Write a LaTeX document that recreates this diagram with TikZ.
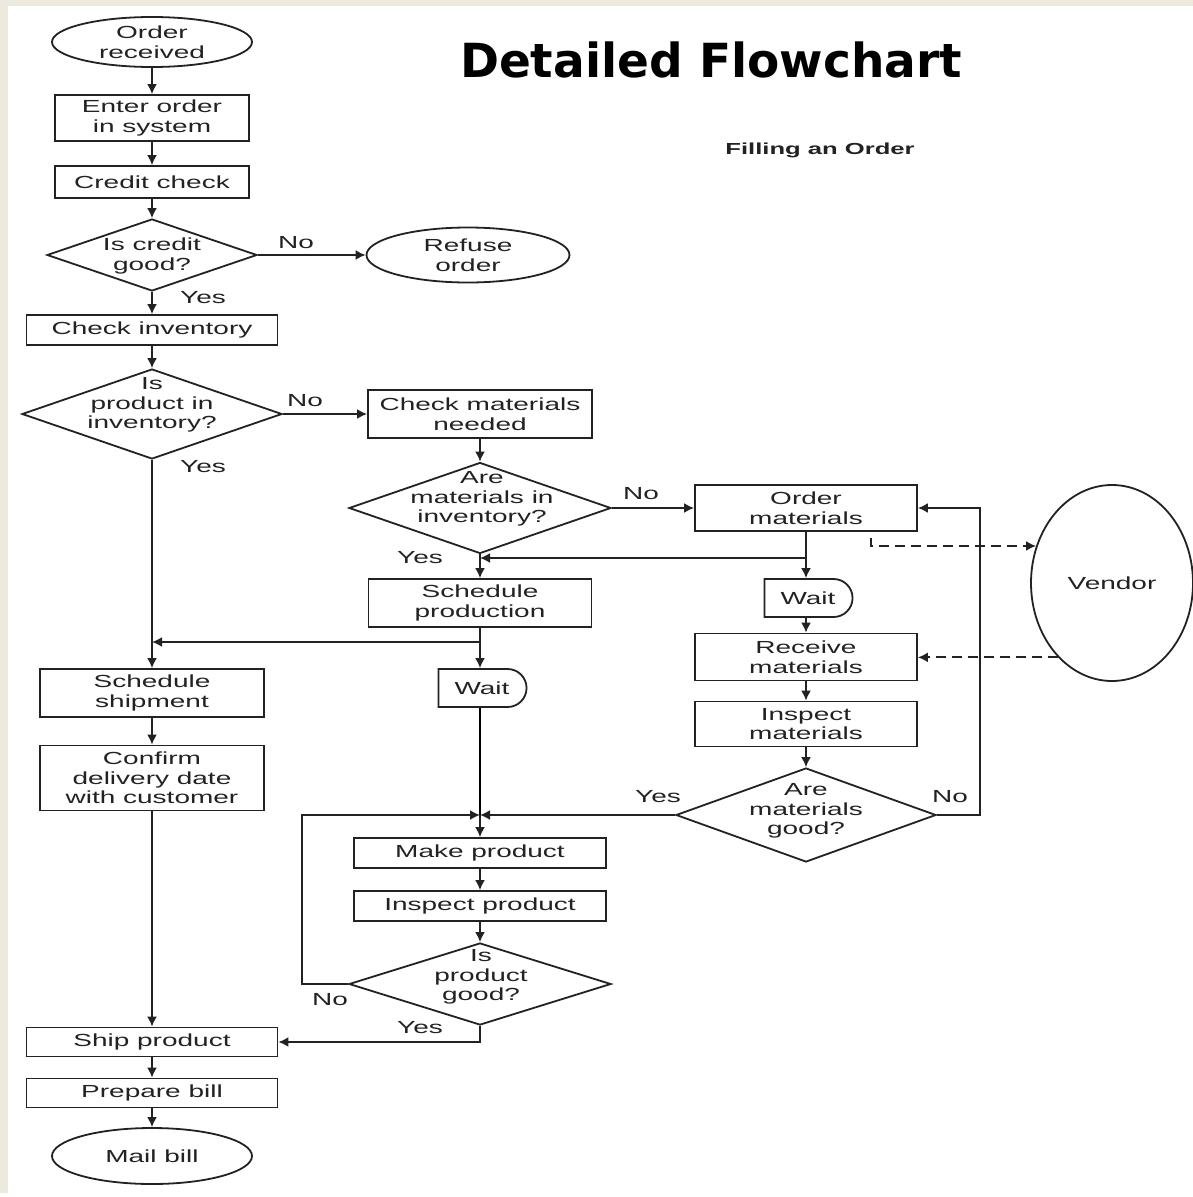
\documentclass[tikz,border=0pt]{standalone}
\usepackage{fontspec}
\setmainfont{Liberation Sans}
\newfontfamily\fc[FakeStretch=1.6]{Liberation Sans}
\newfontfamily\ttlfont{DejaVu Sans}
\usetikzlibrary{shapes.geometric,shapes.misc,arrows.meta}
\definecolor{beige}{HTML}{ECE9DD}
\definecolor{ink}{HTML}{222222}
\begin{document}
\begin{tikzpicture}[x=1pt,y=-1pt,
 line width=1.8pt,
 every node/.style={font=\fc\fontsize{17.5}{19.5}\selectfont, text=ink},
 proc/.style={draw=ink, rectangle, align=center, inner sep=0pt},
 term/.style={draw=ink, ellipse, align=center, inner sep=0pt},
 dia/.style={draw=ink, diamond, inner sep=0pt},
 txt/.style={align=center, inner sep=0pt},
 waitbox/.style={draw=ink, rounded rectangle, rounded rectangle left arc=none, inner sep=0pt, minimum width=88pt, minimum height=38pt},
 arr/.style={draw=ink, -{Latex[length=10pt,width=10pt]}},
 dsh/.style={draw=ink, dash pattern=on 10pt off 6pt, -{Latex[length=10pt,width=10pt]}},
 lab/.style={inner sep=0pt},
]
\useasboundingbox (0,0) rectangle (1193,1197);
\fill[white] (0,0) rectangle (1193,1197);
\fill[beige] (0,0) rectangle (1193,6);
\fill[beige] (0,0) rectangle (8,1193);

% title
\node[font=\ttlfont\bfseries\fontsize{47}{52}\selectfont, text=black] (title) at (711,60) {Detailed Flowchart};
\node[font=\fc\bfseries\fontsize{16}{18}\selectfont] (sub) at (820,150) {Filling an Order};

% left column
\node[term, minimum width=200pt, minimum height=50pt] (recv) at (152,42) {Order\\received};
\node[proc, minimum width=194pt, minimum height=46pt] (enter) at (152,118) {Enter order\\in system};
\node[proc, minimum width=194pt, minimum height=32pt] (credit) at (152,182) {Credit check};
\node[dia, minimum width=210pt, minimum height=72pt] (d1) at (152,255) {};
\node[txt] (d1t) at (152,256) {Is credit\\good?};
\node[term, minimum width=203pt, minimum height=55pt] (refuse) at (468,255) {Refuse\\order};
\node[proc, minimum width=251pt, minimum height=30pt] (chinv) at (152,330) {Check inventory};
\node[dia, minimum width=260pt, minimum height=90pt] (d2) at (152,414) {};
\node[txt] (d2t) at (152,405) {Is\\product in\\inventory?};
\node[proc, minimum width=224pt, minimum height=48pt] (sship) at (152,693) {Schedule\\shipment};
\node[proc, minimum width=224pt, minimum height=65pt] (confirm) at (152,778) {Confirm\\delivery date\\with customer};
\node[proc, minimum width=251pt, minimum height=29pt] (ship) at (152,1042) {Ship product};
\node[proc, minimum width=251pt, minimum height=29pt] (bill) at (152,1093) {Prepare bill};
\node[term, minimum width=200pt, minimum height=56pt] (mail) at (152,1156) {Mail bill};

% middle column
\node[proc, minimum width=224pt, minimum height=48pt] (chmat) at (480,414) {Check materials\\needed};
\node[dia, minimum width=262pt, minimum height=91pt] (d3) at (480,508) {};
\node[txt] (d3t) at (482,499) {Are\\materials in\\inventory?};
\node[proc, minimum width=223pt, minimum height=48pt] (sprod) at (480,603) {Schedule\\production};
\node[waitbox] (wait1) at (482,688) {Wait};
\node[proc, minimum width=252pt, minimum height=30pt] (make) at (480,853) {Make product};
\node[proc, minimum width=252pt, minimum height=30pt] (inspp) at (480,906) {Inspect product};
\node[dia, minimum width=262pt, minimum height=82pt] (d4) at (480,984) {};
\node[txt] (d4t) at (481,977) {Is\\product\\good?};

% right column
\node[proc, minimum width=222pt, minimum height=46pt] (ordm) at (806,508) {Order\\materials};
\node[waitbox] (wait2) at (808,598) {Wait};
\node[proc, minimum width=222pt, minimum height=47pt] (recm) at (806,657) {Receive\\materials};
\node[proc, minimum width=222pt, minimum height=45pt] (inspm) at (806,724) {Inspect\\materials};
\node[dia, minimum width=260pt, minimum height=94pt] (d5) at (806,815) {};
\node[txt] (d5t) at (806,811) {Are\\materials\\good?};
\node[term, minimum width=162pt, minimum height=196pt] (vendor) at (1112,583) {Vendor};

% coordinates
\coordinate (j1) at (806,558);
\coordinate (j1b) at (480,558);
\coordinate (j2) at (480,642);
\coordinate (j2b) at (152,642);
\coordinate (jm) at (480,815);
\coordinate (c5) at (980,815);
\coordinate (c4) at (302,984);
\coordinate (vd) at (871,538);

% left connectors
\draw[arr] (recv) -- (enter);
\draw[arr] (enter) -- (credit);
\draw[arr] (credit) -- (d1);
\draw[arr] (d1.east) -- (refuse.west);
\draw[arr] (d1.south) -- (chinv.north);
\draw[arr] (chinv) -- (d2.north);
\draw[arr] (d2.east) -- (chmat.west);
\draw[arr] (d2.south) -- (sship.north);
\draw[arr] (sship) -- (confirm);
\draw[arr] (confirm) -- (ship);
\draw[arr] (ship) -- (bill);
\draw[arr] (bill) -- (mail);

% middle connectors
\draw[arr] (chmat) -- (d3.north);
\draw[arr] (d3.east) -- (ordm.west);
\draw[arr] (d3.south) -- (sprod.north);
\draw[arr] (sprod.south) -- (sprod.south |- wait1.north);
\draw[arr] (j2) -- (j2b);
\draw (wait1.south -| jm) -- (jm);
\draw[arr] (jm) -- (make.north);
\draw[arr] (make) -- (inspp);
\draw[arr] (inspp) -- (d4.north);
\draw[arr] (d4.west) -- (c4) |- (jm);
\draw[arr] (d4.south) |- (ship.east);

% right connectors
\draw[arr] (ordm.south) -- (ordm.south |- wait2.north);
\draw[arr] (j1) -- (j1b);
\draw[arr] (wait2.south -| recm.north) -- (recm.north);
\draw[arr] (recm) -- (inspm);
\draw[arr] (inspm) -- (d5.north);
\draw[arr] (d5.west) -- (jm);
\draw[arr] (d5.east) -- (c5) |- (ordm.east);
\draw[dsh] (vd) |- (vendor.154);
\draw[dsh] (vendor.234) -- (vendor.234 -| recm.east);

% labels
\node[lab] (no1) at (296,243) {No};
\node[lab] (yes1) at (203,298) {Yes};
\node[lab] (no2) at (305,401) {No};
\node[lab] (yes2) at (203,467) {Yes};
\node[lab] (no3) at (641,494) {No};
\node[lab] (yes3) at (420,558) {Yes};
\node[lab] (yes5) at (658,797) {Yes};
\node[lab] (no5) at (950,797) {No};
\node[lab] (no4) at (330,1000) {No};
\node[lab] (yes4) at (420,1028) {Yes};
\end{tikzpicture}
\end{document}
